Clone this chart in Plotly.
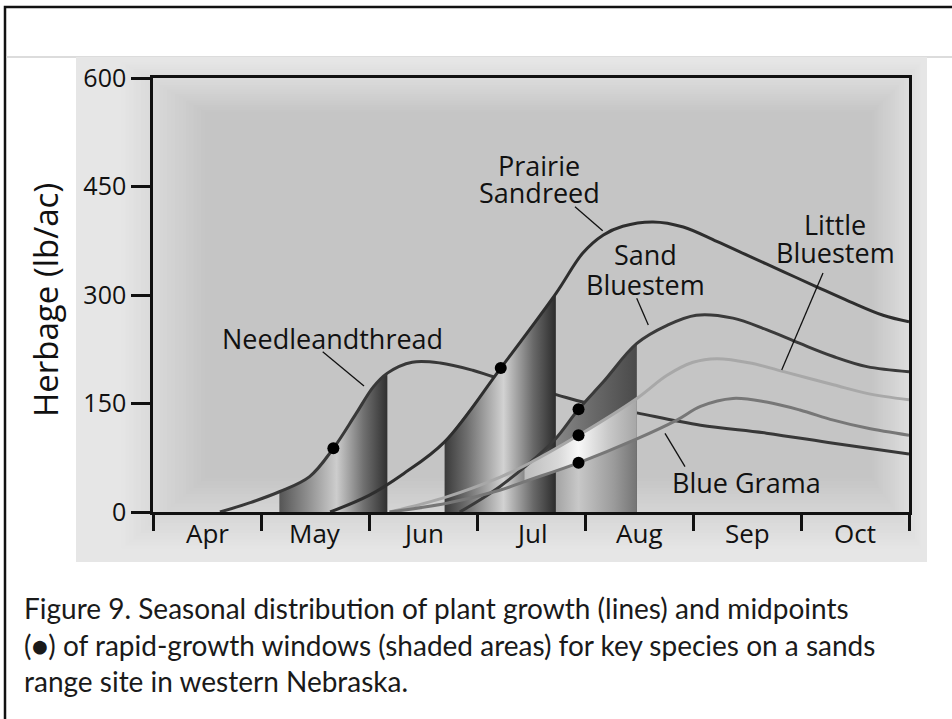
import plotly.graph_objects as go

# ---------------- data ----------------
months = ["Apr", "May", "Jun", "Jul", "Aug", "Sep", "Oct"]
month_edges = [0, 1, 2, 3, 4, 5, 6, 7]
y_ticks = [0, 150, 300, 450, 600]

# x = months since 1 April
nt_x = [0.62, 0.90, 1.17, 1.45, 1.67, 1.88, 2.04, 2.17, 2.40, 2.66, 2.96, 3.15, 3.74, 3.98, 4.48, 5.07, 5.68, 6.30, 7.0]
nt_y = [0, 13, 28, 49, 88, 136, 173, 192, 207, 206, 196, 187, 162, 152, 137, 120, 109, 95, 80]

ps_x = [1.64, 2.00, 2.32, 2.70, 3.22, 3.73, 3.98, 4.17, 4.35, 4.63, 4.91, 5.22, 5.53, 5.84, 6.15, 6.45, 6.76, 7.0]
ps_y = [0, 23, 53, 97, 199, 302, 358, 383, 395, 401, 394, 374, 353, 332, 311, 291, 272, 263]

sb_x = [2.84, 3.03, 3.21, 3.44, 3.72, 3.94, 4.17, 4.48, 4.76, 5.03, 5.37, 5.68, 5.99, 6.30, 6.61, 7.0]
sb_y = [0, 17, 35, 62, 100, 142, 180, 233, 258, 272, 268, 252, 233, 215, 201, 194]

lb_x = [2.19, 2.72, 3.21, 3.44, 3.94, 4.48, 4.76, 5.00, 5.22, 5.53, 5.84, 6.30, 6.61, 7.0]
lb_y = [0, 21, 48, 64, 106, 157, 189, 207, 212, 206, 194, 176, 164, 155]

bg_x = [2.19, 2.72, 3.21, 3.44, 3.94, 4.48, 4.85, 5.07, 5.37, 5.68, 5.99, 6.30, 6.61, 7.0]
bg_y = [0, 12, 30, 42, 68, 101, 127, 146, 157, 152, 141, 127, 116, 106]

# rapid-growth windows (start, end) in months since 1 April
nt_window = (1.17, 2.17)
ps_window = (2.70, 3.73)
sb_window = (3.44, 4.48)
lb_window = (3.44, 4.48)
bg_window = (3.44, 4.48)

# midpoints of rapid-growth windows
mid_x = [1.67, 3.22, 3.94, 3.94, 3.94]
mid_y = [88, 199, 142, 106, 68]

# ---------------- layout helpers ----------------
W, H = 952, 719
L, R, T, B = 153, 909, 78, 512


def px(x):
    return (x - L) / (R - L)


def py(y):
    return (B - y) / (B - T)


def sub(xs, ys, win):
    pts = [(a, b) for a, b in zip(xs, ys) if win[0] - 1e-9 <= a <= win[1] + 1e-9]
    return [p[0] for p in pts], [p[1] for p in pts]


fig = go.Figure()


def window(xs, ys, win, scale, fill="tozeroy"):
    wx, wy = sub(xs, ys, win)
    fig.add_trace(go.Scatter(
        x=wx, y=wy, mode="lines", line=dict(width=0, shape="spline"),
        fill=fill, fillgradient=dict(type="horizontal", colorscale=scale),
        hoverinfo="skip", showlegend=False))


def curve(xs, ys, color, width=3):
    fig.add_trace(go.Scatter(
        x=xs, y=ys, mode="lines", line=dict(color=color, width=width, shape="spline"),
        hoverinfo="skip", showlegend=False))


# Needleandthread window + line
window(nt_x, nt_y, nt_window,
       [[0, "#555555"], [0.25, "#8c8c8c"], [0.53, "#cdcdcd"], [0.78, "#707070"], [1, "#303030"]])
curve(nt_x, nt_y, "#383838")

# late-season windows
window(sb_x, sb_y, sb_window,
       [[0, "#9a9a9a"], [0.27, "#888888"], [0.6, "#6a6a6a"], [1, "#4a4a4a"]])
window(bg_x, bg_y, bg_window,
       [[0, "#8a8a8a"], [0.27, "#a2a2a2"], [0.48, "#c8c8c8"], [0.8, "#9a9a9a"], [1, "#747474"]])
window(ps_x, ps_y, ps_window,
       [[0, "#3a3a3a"], [0.2, "#6e6e6e"], [0.53, "#d2d2d2"], [0.8, "#686868"], [1, "#2c2c2c"]])
# light band between Blue Grama and Little Bluestem
bx, byy = sub(bg_x, bg_y, bg_window)
fig.add_trace(go.Scatter(x=bx, y=byy, mode="lines", line=dict(width=0, shape="spline"),
                         hoverinfo="skip", showlegend=False))
window(lb_x, lb_y, lb_window,
       [[0, "#bdbdbd"], [0.3, "#d8d8d8"], [0.48, "#f8f8f8"], [0.75, "#c8c8c8"], [1, "#a6a6a6"]],
       fill="tonexty")

curve(ps_x, ps_y, "#2e2e2e")
curve(sb_x, sb_y, "#3a3a3a")
curve(lb_x, lb_y, "#a8a8a8")
curve(bg_x, bg_y, "#777777")

fig.add_trace(go.Scatter(x=mid_x, y=mid_y, mode="markers",
                         marker=dict(color="#000000", size=12),
                         hoverinfo="skip", showlegend=False))

# ---------------- background / frame shapes ----------------
shapes = []
# outer frame
shapes.append(dict(type="rect", xref="paper", yref="paper",
                   x0=px(5), x1=px(990), y0=py(7), y1=py(760),
                   line=dict(color="#111111", width=2.5), fillcolor="rgba(0,0,0,0)", layer="below"))
# separator
shapes.append(dict(type="line", xref="paper", yref="paper",
                   x0=px(6), x1=px(990), y0=py(57), y1=py(57),
                   line=dict(color="#d0d0d0", width=1.5), layer="below"))
# panel with a soft vignette (nested opaque rectangles)
P0 = (76, 57, 927, 562)
shapes.append(dict(type="rect", xref="paper", yref="paper",
                   x0=px(P0[0]), x1=px(P0[2]), y0=py(P0[1]), y1=py(P0[3]),
                   line=dict(width=0), fillcolor="rgb(230,230,230)", layer="below"))
A0 = (118, 60, 924, 552)
A1 = (205, 112, 872, 478)
n = 24
for i in range(1, n):
    t = i / (n - 1)
    x0 = A0[0] + (A1[0] - A0[0]) * t
    y0 = A0[1] + (A1[1] - A0[1]) * t
    x1 = A0[2] + (A1[2] - A0[2]) * t
    y1 = A0[3] + (A1[3] - A0[3]) * t
    g = round(230 - 33 * t)
    shapes.append(dict(type="rect", xref="paper", yref="paper",
                       x0=px(x0), x1=px(x1), y0=py(y0), y1=py(y1),
                       line=dict(width=0), fillcolor=f"rgb({g},{g},{g})", layer="below"))

# leader lines (pixel positions of label connectors)
leaders = [((322.7, 351.7), (364, 386)),
           ((575, 206.7), (602.7, 230.7)),
           ((636.7, 298.3), (648.3, 325)),
           ((823, 273), (781.7, 370)),
           ((665, 433.3), (685, 466.7))]
for (a, b) in leaders:
    shapes.append(dict(type="line", xref="paper", yref="paper",
                       x0=px(a[0]), y0=py(a[1]), x1=px(b[0]), y1=py(b[1]),
                       line=dict(color="#111111", width=1.3)))

# ---------------- text ----------------
LABEL_FONT = dict(family="Open Sans", size=27, color="#111111")
labels = [("Needleandthread", 332, 338),
          ("Prairie", 539, 165), ("Sandreed", 539, 192),
          ("Sand", 645, 255), ("Bluestem", 645, 284),
          ("Little", 835, 224), ("Bluestem", 835, 252),
          ("Blue Grama", 746, 482)]
annotations = []
for txt, x, y in labels:
    annotations.append(dict(text=txt, x=px(x), y=py(y), xref="paper", yref="paper",
                            xanchor="center", yanchor="middle", showarrow=False,
                            font=LABEL_FONT))

# month labels centred between month boundaries
for i, m in enumerate(months):
    annotations.append(dict(text=m, x=(month_edges[i] + month_edges[i + 1]) / 2, y=py(533),
                            xref="x", yref="paper", xanchor="center", yanchor="middle",
                            showarrow=False,
                            font=dict(family="Open Sans", size=26, color="#111111")))

caption = ["Figure 9. Seasonal distribution of plant growth (lines) and midpoints",
           "(\u25CF) of rapid-growth windows (shaded areas) for key species on a sands",
           "range site in western Nebraska."]
for i, line in enumerate(caption):
    annotations.append(dict(text=line, x=px(22), y=py(608 + 36.5 * i), xref="paper", yref="paper",
                            xanchor="left", yanchor="middle", showarrow=False,
                            font=dict(family="Lato", size=28, color="#1a1a1a")))

annotations.append(dict(text="Herbage (lb/ac)", x=px(45), y=py(300), xref="paper", yref="paper",
                        xanchor="center", yanchor="middle", showarrow=False, textangle=-90,
                        font=dict(family="Open Sans", size=33, color="#111111")))

fig.update_layout(
    width=W, height=H,
    margin=dict(l=L, r=W - R, t=T, b=H - B, pad=0),
    paper_bgcolor="#ffffff", plot_bgcolor="rgba(0,0,0,0)",
    shapes=shapes, annotations=annotations, showlegend=False,
    xaxis=dict(range=[0, 7], tickvals=month_edges, ticktext=[""] * len(month_edges),
               ticks="outside", ticklen=16, tickwidth=2.5, tickcolor="#111111",
               showgrid=False, zeroline=False, showline=True, mirror=True,
               linecolor="#111111", linewidth=2.5),
    yaxis=dict(range=[0, 600], tickvals=y_ticks, ticks="outside", ticklen=19, tickwidth=2.5,
               tickcolor="#111111", showgrid=False, zeroline=False, showline=True, mirror=True,
               linecolor="#111111", linewidth=2.5,
               tickfont=dict(family="Open Sans", size=25, color="#111111")),
)

fig.write_html("out.html", config={"displayModeBar": False},
               post_script="document.body.style.margin='0';document.body.style.overflow='hidden';")
